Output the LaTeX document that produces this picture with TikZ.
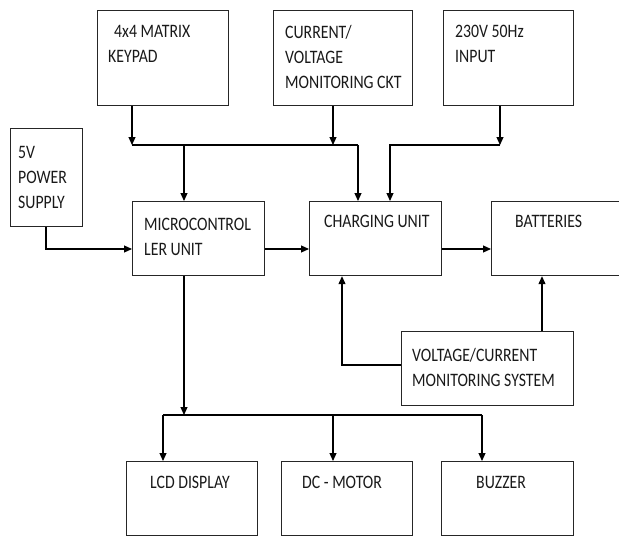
\documentclass[tikz,border=0pt]{standalone}
\usepackage{fontspec}
\setmainfont{Carlito}
\newfontfamily\cfont[FakeStretch=0.83]{Carlito}
\usetikzlibrary{arrows.meta}
\begin{document}
\begin{tikzpicture}[x=1pt,y=-1pt,
  blk/.style={draw=black!85,line width=1.2pt,rectangle,inner sep=0pt,anchor=north west},
  txt/.style={anchor=north west,inner sep=0pt,align=left,text=black!90,
    font=\cfont\fontsize{19}{25}\selectfont},
  arr/.style={line width=1.1pt,-{Triangle[length=8pt,width=7pt]}},
  ln/.style={line width=1.1pt}]
\useasboundingbox (0,0) rectangle (619,536);
\clip (0,0) rectangle (619,536);
% boxes
\node[blk,minimum width=131pt,minimum height=95pt] (kp) at (97,10) {};
\node[blk,minimum width=139pt,minimum height=95pt] (cv) at (273,10) {};
\node[blk,minimum width=130pt,minimum height=95pt] (in) at (443,10) {};
\node[blk,minimum width=72pt,minimum height=98pt] (ps) at (10,128) {};
\node[blk,minimum width=132pt,minimum height=74pt] (mcu) at (132,201) {};
\node[blk,minimum width=132pt,minimum height=74pt] (cu) at (309,201) {};
\node[blk,minimum width=140pt,minimum height=74pt] (bat) at (491,201) {};
\node[blk,minimum width=172pt,minimum height=74pt] (vc) at (401,331) {};
\node[blk,minimum width=131pt,minimum height=74pt] (lcd) at (126,461) {};
\node[blk,minimum width=131pt,minimum height=74pt] (dc) at (281,461) {};
\node[blk,minimum width=132pt,minimum height=74pt] (buz) at (441,461) {};
% texts
\node[txt] (kpt) at (108,25) {\hspace*{6pt}4x4 MATRIX\\KEYPAD};
\node[txt] (cvt) at (285,25) {CURRENT/\\VOLTAGE\\MONITORING CKT};
\node[txt] (int) at (455,25) {230V 50Hz\\INPUT};
\node[txt] (pst) at (18,146) {5V\\POWER\\SUPPLY};
\node[txt] (mcut) at (144,218) {MICROCONTROL\\LER UNIT};
\node[txt] (cut) at (324,215) {CHARGING UNIT};
\node[txt] (batt) at (515,215) {BATTERIES};
\node[txt] (vct) at (412,348) {VOLTAGE/CURRENT\\MONITORING SYSTEM};
\node[txt] (lcdt) at (150,476) {LCD DISPLAY};
\node[txt] (dct) at (302,476) {DC - MOTOR};
\node[txt] (buzt) at (476,476) {BUZZER};
% junctions
\coordinate (j1) at (132,145);
\coordinate (j2) at (333,145);
\coordinate (j3) at (358,145);
\coordinate (j5) at (184,145);
\coordinate (j6) at (500,145);
\coordinate (j7) at (390,145);
\coordinate (j8) at (46,249);
\coordinate (j9) at (300,249);
\coordinate (j10) at (342,365);
\coordinate (j11) at (542,300);
\coordinate (b0) at (184,415);
\coordinate (b1) at (163,415);
\coordinate (b2) at (333,415);
\coordinate (b3) at (482,415);
% connectors
\draw[arr] (kp.south -| j1) -- (j1);
\draw[arr] (cv.south -| j2) -- (j2);
\draw[ln] (j1) -- (j3);
\draw[arr] (j3) -- (cu.north -| j3);
\draw[arr] (j5) -- (mcu.north -| j5);
\draw[arr] (in.south -| j6) -- (j6);
\draw[arr] (j6) -- (j7) -- (cu.north -| j7);
\draw[arr] (ps.south -| j8) -- (j8) -- (mcu.west |- j8);
\draw[arr] (mcu.east |- j9) -- (cu.west |- j9);
\draw[arr] (cu.east |- j9) -- (bat.west |- j9);
\draw[arr] (vc.west |- j10) -- (j10) -- (cu.south -| j10);
\draw[arr] (vc.north -| j11) -- (bat.south -| j11);
\draw[arr] (mcu.south -| b0) -- (b0);
\draw[ln] (b1) -- (b3);
\draw[arr] (b1) -- (lcd.north -| b1);
\draw[arr] (b2) -- (dc.north -| b2);
\draw[arr] (b3) -- (buz.north -| b3);
\end{tikzpicture}
\end{document}
